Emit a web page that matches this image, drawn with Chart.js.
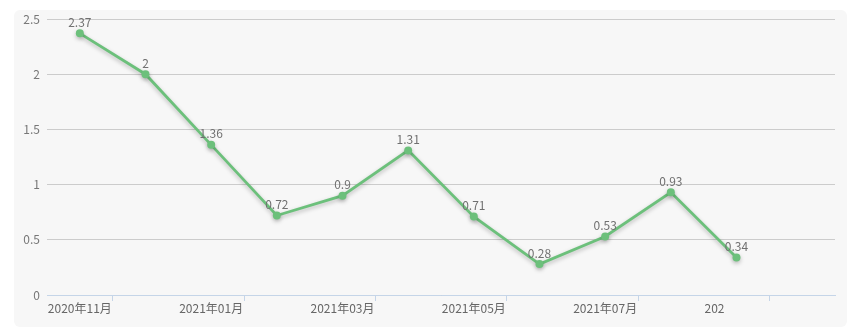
<!DOCTYPE html>
<html>
<head>
<meta charset="utf-8">
<script src="https://cdn.jsdelivr.net/npm/chart.js@4/dist/chart.umd.min.js"></script>
<style>
  html, body { margin: 0; padding: 0; background: #fff; }
  #wrap { position: relative; width: 852px; height: 336px; }
  #panel { position: absolute; left: 14px; top: 10px; width: 833px; height: 317px; background: #f7f7f7; border-radius: 6px; }
  #trend { position: absolute; left: 0; top: 0; }
</style>
</head>
<body>
<div id="wrap">
  <div id="panel"></div>
  <canvas id="trend" width="852" height="336"></canvas>
</div>
<script>
// months on the x axis, the last one has no value yet
const months = [ '2020年11月', '2020年12月', '2021年01月', '2021年02月', '2021年03月', '2021年04月',
  '2021年05月', '2021年06月', '2021年07月', '2021年08月', '2021年09月', '2021年10月' ]
// every other month is labelled; the Sept label is cut short (padded so it keeps its place)
const monthLabels = [ '2020年11月', '', '2021年01月', '', '2021年03月', '', '2021年05月', '', '2021年07月', '',
  '202\u3000\u3000\u2007\u2007\u2007', '' ]
const values = [ 2.37, 2, 1.36, 0.72, 0.9, 1.31, 0.71, 0.28, 0.53, 0.93, 0.34, null ]

const green = '#6cc07b'
const fontFamily = '"Noto Sans CJK SC", "Noto Sans", sans-serif'

// soft shadow under the line
const lineShadow = {
  id: 'lineShadow',
  beforeDatasetDraw( chart ) {
    const ctx = chart.ctx
    ctx.save()
    ctx.shadowColor = 'rgba(0, 0, 0, 0.25)'
    ctx.shadowBlur = 4
    ctx.shadowOffsetY = 2
  },
  afterDatasetDraw( chart ) {
    chart.ctx.restore()
  }
}

// value text above each point
const valueLabels = {
  id: 'valueLabels',
  afterDatasetsDraw( chart ) {
    const ctx = chart.ctx
    const meta = chart.getDatasetMeta( 0 )
    ctx.save()
    ctx.font = '12px ' + fontFamily
    ctx.fillStyle = '#707070'
    ctx.textAlign = 'center'
    ctx.textBaseline = 'bottom'
    meta.data.forEach( ( pt, i ) => {
      if ( values[ i ] === null ) return
      ctx.fillText( String( values[ i ] ), pt.x, pt.y - 5 )
    } )
    ctx.restore()
  }
}

const config = {
  type: 'line',
  data: {
    labels: months,
    datasets: [ {
      data: values,
      borderColor: green,
      backgroundColor: green,
      borderWidth: 2.8,
      pointRadius: 4,
      pointHoverRadius: 4,
      pointBorderWidth: 0,
      tension: 0,
      fill: false
    } ]
  },
  options: {
    responsive: false,
    animation: false,
    layout: { padding: { top: 19, right: 17, left: 0, bottom: 0 } },
    plugins: { legend: { display: false }, tooltip: { enabled: false } },
    scales: {
      x: {
        offset: true,
        grid: {
          offset: true,
          drawOnChartArea: false,
          tickLength: 6,
          color: ctx => ctx.index % 2 === 1 ? '#c5d5e8' : 'rgba(0,0,0,0)'
        },
        border: { color: '#c5d5e8', width: 1 },
        ticks: {
          autoSkip: false,
          maxRotation: 0,
          align: 'end',
          labelOffset: 32,
          padding: 0,
          color: '#666',
          font: { size: 12, family: fontFamily },
          callback: ( v, i ) => monthLabels[ i ]
        },
        afterFit: scale => { scale.height = 41 }
      },
      y: {
        min: 0,
        max: 2.5,
        border: { display: false },
        grid: { color: '#cccccc', drawTicks: false },
        ticks: {
          stepSize: 0.5,
          padding: 7,
          color: '#777',
          font: { size: 12, family: fontFamily },
          callback: v => String( v )
        },
        afterFit: scale => { scale.width = 47 }
      }
    }
  },
  plugins: [ lineShadow, valueLabels ]
}

const graph = new Chart( document.getElementById( 'trend' ), config )
</script>
</body>
</html>
